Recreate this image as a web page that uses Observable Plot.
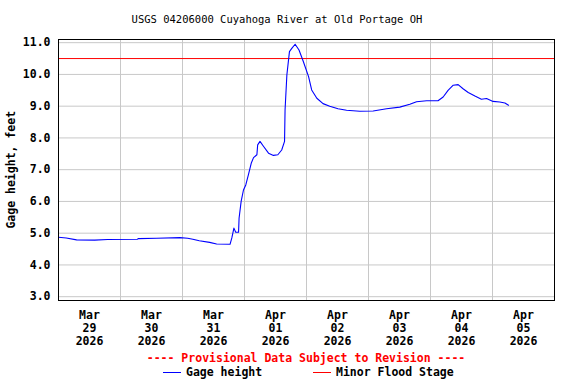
<!DOCTYPE html>
<html>
<head>
<meta charset="utf-8">
<script src="https://cdn.jsdelivr.net/npm/d3@7"></script>
<script src="https://cdn.jsdelivr.net/npm/@observablehq/plot@0.6"></script>
<style>
  html, body { margin: 0; padding: 0; background: white; }
  #wrap { position: relative; width: 576px; height: 384px; overflow: hidden; font-family: "DejaVu Sans Mono", monospace; }
  #wrap svg { position: absolute; left: 0; top: 0; }
  .txt { position: absolute; white-space: pre; line-height: 1; }
  #title { left: 0; width: 554px; top: 14px; text-align: center; font-size: 10.5px; color: #000; }
  #ylab { left: -88px; width: 200px; top: 164px; text-align: center; font-size: 11.5px; font-weight: bold; color: #000; transform: rotate(-90deg); }
  #prov { left: 58px; width: 496px; top: 353px; text-align: center; font-size: 11.5px; font-weight: bold; color: #ff0000; }
  .sw { position: absolute; height: 0; width: 18px; top: 372px; border-top: 1px solid; }
  .lg { top: 367px; font-size: 11.5px; font-weight: bold; color: #000; }
</style>
</head>
<body>
<div id="wrap">
  <div id="title" class="txt">USGS 04206000 Cuyahoga River at Old Portage OH</div>
  <div id="ylab" class="txt">Gage height, feet</div>
  <div id="prov" class="txt">---- Provisional Data Subject to Revision ----</div>
  <div class="sw" style="left:163px;border-color:#0000ff"></div>
  <div class="txt lg" style="left:186px">Gage height</div>
  <div class="sw" style="left:313px;border-color:#ff0000"></div>
  <div class="txt lg" style="left:336px">Minor Flood Stage</div>
</div>
<script>
const times = [
  "2026-03-29T00:00","2026-03-29T03:00","2026-03-29T07:00","2026-03-29T14:00","2026-03-29T19:00",
  "2026-03-30T06:30","2026-03-30T07:00","2026-03-30T14:00","2026-03-30T23:00",
  "2026-03-31T02:00","2026-03-31T04:00","2026-03-31T06:30","2026-03-31T10:30","2026-03-31T13:12",
  "2026-03-31T18:24","2026-03-31T19:06","2026-03-31T19:54","2026-03-31T20:36","2026-03-31T21:42",
  "2026-03-31T21:54","2026-03-31T22:42","2026-03-31T23:36",
  "2026-04-01T00:30","2026-04-01T01:30","2026-04-01T02:36","2026-04-01T03:30","2026-04-01T04:48",
  "2026-04-01T05:06","2026-04-01T06:00","2026-04-01T07:24","2026-04-01T09:18","2026-04-01T11:12",
  "2026-04-01T12:54","2026-04-01T14:24","2026-04-01T15:30","2026-04-01T15:42","2026-04-01T16:24",
  "2026-04-01T17:24","2026-04-01T18:18","2026-04-01T19:36","2026-04-01T21:06","2026-04-01T22:48",
  "2026-04-02T00:48","2026-04-02T02:00","2026-04-02T04:00","2026-04-02T06:24","2026-04-02T09:00",
  "2026-04-02T12:12","2026-04-02T15:30","2026-04-02T20:36",
  "2026-04-03T01:48","2026-04-03T07:00","2026-04-03T12:06","2026-04-03T16:00","2026-04-03T18:36",
  "2026-04-03T22:30",
  "2026-04-04T02:54","2026-04-04T04:54","2026-04-04T06:48","2026-04-04T08:48","2026-04-04T10:42",
  "2026-04-04T12:36","2026-04-04T14:36","2026-04-04T17:12","2026-04-04T19:42","2026-04-04T21:42",
  "2026-04-05T00:12","2026-04-05T02:48","2026-04-05T04:48","2026-04-05T06:12"
];
const heights = [
  4.87,4.85,4.79,4.78,4.80,
  4.81,4.83,4.84,4.86,
  4.84,4.81,4.76,4.71,4.66,
  4.65,4.85,5.16,5.03,5.03,
  5.47,6.00,6.36,
  6.52,6.84,7.20,7.38,7.47,
  7.78,7.89,7.73,7.52,7.45,
  7.47,7.62,7.89,8.88,9.98,
  10.72,10.82,10.95,10.77,10.40,
  9.93,9.51,9.25,9.08,9.00,
  8.92,8.87,8.84,
  8.85,8.92,8.97,9.06,9.14,
  9.17,
  9.17,9.29,9.50,9.66,9.68,
  9.55,9.43,9.32,9.22,9.24,
  9.15,9.13,9.10,9.03
];
const minorFloodStage = 10.5;
const yTicks = [3, 4, 5, 6, 7, 8, 9, 10, 11];
const dayStarts = ["2026-03-29","2026-03-30","2026-03-31","2026-04-01","2026-04-02","2026-04-03","2026-04-04","2026-04-05","2026-04-06"];
const dayLabels = ["Mar\n29\n2026","Mar\n30\n2026","Mar\n31\n2026","Apr\n01\n2026","Apr\n02\n2026","Apr\n03\n2026","Apr\n04\n2026","Apr\n05\n2026"];

const parse = s => new Date(s.length === 10 ? s + "T00:00" : s);
const data = times.map((t, i) => ({time: parse(t), height: heights[i]}));
const gridDays = dayStarts.map(parse);
const labelDays = gridDays.slice(0, -1).map(d => new Date(+d + 12 * 3600 * 1000));
const labelMap = new Map(labelDays.map((d, i) => [+d, dayLabels[i]]));

const chart = Plot.plot({
  width: 576,
  height: 384,
  marginLeft: 58,
  marginRight: 22,
  marginTop: 39,
  marginBottom: 84,
  style: {fontFamily: "'DejaVu Sans Mono', monospace", fontSize: "11.5px", fontWeight: "bold", color: "black", background: "white"},
  x: {type: "time", domain: [gridDays[0], gridDays[gridDays.length - 1]]},
  y: {domain: [2.88, 11.1]},
  marks: [
    Plot.gridX(gridDays, {stroke: "#c8c8c8", strokeOpacity: 1}),
    Plot.gridY(yTicks, {stroke: "#c8c8c8", strokeOpacity: 1}),
    Plot.axisY(yTicks, {tickSize: 0, tickPadding: 8, tickFormat: d => d.toFixed(1), label: null}),
    Plot.axisX(labelDays, {tickSize: 0, tickPadding: 9, tickFormat: d => labelMap.get(+d), lineHeight: 1.13, label: null}),
    Plot.ruleY([minorFloodStage], {stroke: "#ff0000", strokeWidth: 1}),
    Plot.line(data, {x: "time", y: "height", stroke: "#0000ff", strokeWidth: 1.1}),
    Plot.frame({stroke: "black", strokeWidth: 1})
  ]
});
document.getElementById("wrap").prepend(chart);
</script>
</body>
</html>
